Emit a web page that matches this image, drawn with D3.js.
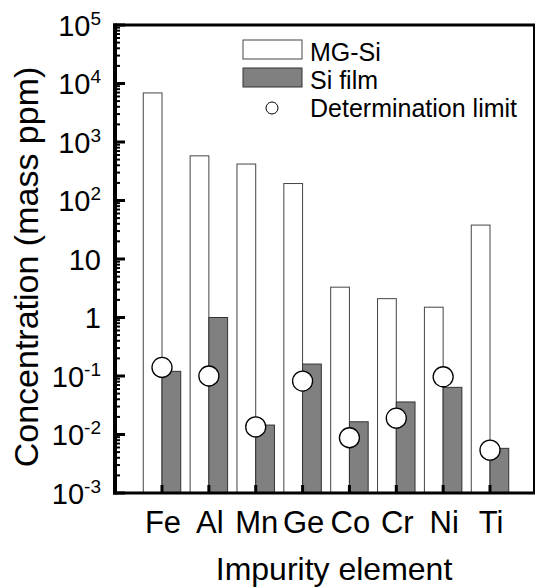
<!DOCTYPE html>
<html>
<head>
<meta charset="utf-8">
<script src="https://cdnjs.cloudflare.com/ajax/libs/d3/7.8.5/d3.min.js"></script>
<style>
	body { margin: 0; background: #ffffff; }
	svg { display: block; font-family: 'Liberation Sans', Arial, sans-serif; }
</style>
</head>
<body>
<div id="chart"></div>
<script>
// impurity chart

var elements = ['Fe', 'Al', 'Mn', 'Ge', 'Co', 'Cr', 'Ni', 'Ti'];
var mgSi = [6900, 580, 420, 195, 3.3, 2.1, 1.5, 38];
var siFilm = [0.12, 1.0, 0.0145, 0.16, 0.0165, 0.036, 0.064, 0.0058];
var detLimit = [0.14, 0.1, 0.0135, 0.082, 0.0088, 0.019, 0.097, 0.0054];
var yTicks = [1e-3, 1e-2, 1e-1, 1, 10, 1e2, 1e3, 1e4, 1e5];
var yTickLabels = [['10', '-3'], ['10', '-2'], ['10', '-1'], ['1', ''], ['10', ''],
	['10', '2'], ['10', '3'], ['10', '4'], ['10', '5']];
var legendLabels = ['MG-Si', 'Si film', 'Determination limit'];

var width = 536, height = 587;
// plot frame (window.top is reserved, hence the prefix)
var pLeft = 115, pRight = 534, pTop = 25, pBottom = 493;

var svg = d3.select('#chart')
	.append('svg')
	.attr('width', width)
	.attr('height', height);

var x = d3.scaleLinear().domain([1, elements.length]).range([162, 490]);
var unit = x(2) - x(1);
var barW = unit * 0.4;
var y = d3.scaleLog().domain([1e-3, 1e5]).range([pBottom, pTop]);

// MG-Si bars (left of the centre)
svg.selectAll('rect.mg')
	.data(mgSi)
	.enter()
	.append('rect')
	.attr('class', 'mg')
	.attr('x', function(d, i) { return x(i + 1) - barW; })
	.attr('y', function(d) { return y(d); })
	.attr('width', barW)
	.attr('height', function(d) { return pBottom - y(d); })
	.attr('fill', '#ffffff')
	.attr('stroke', '#444444')
	.attr('stroke-width', 1);

// Si film bars
svg.selectAll('rect.si')
	.data(siFilm)
	.enter()
	.append('rect')
	.attr('class', 'si')
	.attr('x', function(d, i) { return x(i + 1); })
	.attr('y', function(d) { return y(d); })
	.attr('width', barW)
	.attr('height', function(d) { return pBottom - y(d); })
	.attr('fill', '#808080')
	.attr('stroke', '#333333')
	.attr('stroke-width', 1);

// category ticks on the bottom axis
svg.selectAll('line.xt')
	.data(elements)
	.enter()
	.append('line')
	.attr('class', 'xt')
	.attr('x1', function(d, i) { return x(i + 1); })
	.attr('x2', function(d, i) { return x(i + 1); })
	.attr('y1', pBottom)
	.attr('y2', pBottom - 8)
	.attr('stroke', '#000')
	.attr('stroke-width', 3);

// determination limit circles
svg.selectAll('circle.dl')
	.data(detLimit)
	.enter()
	.append('circle')
	.attr('class', 'dl')
	.attr('cx', function(d, i) { return x(i + 1); })
	.attr('cy', function(d) { return y(d); })
	.attr('r', 10)
	.attr('fill', '#ffffff')
	.attr('stroke', '#000')
	.attr('stroke-width', 1.3);

// frame
svg.append('line').attr('x1', pLeft - 2).attr('y1', pTop).attr('x2', pRight + 1).attr('y2', pTop)
	.attr('stroke', '#000').attr('stroke-width', 3);
svg.append('line').attr('x1', pRight).attr('y1', pTop).attr('x2', pRight).attr('y2', pBottom)
	.attr('stroke', '#000').attr('stroke-width', 2);
svg.append('line').attr('x1', pLeft - 2).attr('y1', pBottom).attr('x2', pRight + 1).attr('y2', pBottom)
	.attr('stroke', '#000').attr('stroke-width', 3);
svg.append('line').attr('x1', pLeft).attr('y1', pTop - 1.5).attr('x2', pLeft).attr('y2', pBottom + 1.5)
	.attr('stroke', '#000').attr('stroke-width', 4);

// minor ticks on the log axis
var minor = [];
yTicks.slice(0, -1).forEach(function(t) {
	for (var k = 2; k < 10; k++) minor.push(t * k);
});
svg.selectAll('line.ymin')
	.data(minor)
	.enter()
	.append('line')
	.attr('class', 'ymin')
	.attr('x1', pLeft)
	.attr('x2', pLeft + 5)
	.attr('y1', function(d) { return y(d); })
	.attr('y2', function(d) { return y(d); })
	.attr('stroke', '#000')
	.attr('stroke-width', 2);

svg.selectAll('line.ymaj')
	.data(yTicks)
	.enter()
	.append('line')
	.attr('class', 'ymaj')
	.attr('x1', pLeft)
	.attr('x2', pLeft + 10)
	.attr('y1', function(d) { return y(d); })
	.attr('y2', function(d) { return y(d); })
	.attr('stroke', '#000')
	.attr('stroke-width', 3);

// y tick labels, with superscripts
var yl = svg.selectAll('text.yl')
	.data(yTicks)
	.enter()
	.append('text')
	.attr('class', 'yl')
	.attr('x', 101)
	.attr('y', function(d) { return y(d) + 10.5; })
	.attr('text-anchor', 'end')
	.attr('font-size', 29)
	.attr('fill', '#000');
yl.append('tspan')
	.text(function(d, i) { return yTickLabels[i][0]; });
yl.append('tspan')
	.attr('font-size', 19)
	.attr('dy', -11)
	.text(function(d, i) { return yTickLabels[i][1]; });

// x tick labels
svg.selectAll('text.xl')
	.data(elements)
	.enter()
	.append('text')
	.attr('class', 'xl')
	.attr('x', function(d, i) { return x(i + 1) + 1; })
	.attr('y', 533)
	.attr('text-anchor', 'middle')
	.attr('font-size', 31)
	.attr('fill', '#000')
	.text(function(d) { return d; });

// axis titles
svg.append('text')
	.attr('x', 334)
	.attr('y', 580)
	.attr('text-anchor', 'middle')
	.attr('font-size', 32)
	.attr('fill', '#000')
	.text('Impurity element');

svg.append('text')
	.attr('transform', 'translate(38,' + 267 + ') rotate(-90)')
	.attr('text-anchor', 'middle')
	.attr('font-size', 34)
	.attr('fill', '#000')
	.text('Concentration (mass ppm)');

// legend
var lg = svg.append('g');
lg.append('rect')
	.attr('x', 243).attr('y', 40).attr('width', 59).attr('height', 19)
	.attr('fill', '#ffffff').attr('stroke', '#444444').attr('stroke-width', 1);
lg.append('rect')
	.attr('x', 243).attr('y', 68).attr('width', 59).attr('height', 19)
	.attr('fill', '#808080').attr('stroke', '#333333').attr('stroke-width', 1);
lg.append('circle')
	.attr('cx', 272).attr('cy', 108).attr('r', 6)
	.attr('fill', '#ffffff').attr('stroke', '#000').attr('stroke-width', 1);
lg.selectAll('text')
	.data(legendLabels)
	.enter()
	.append('text')
	.attr('x', 310)
	.attr('y', function(d, i) { return 61 + i * 28; })
	.attr('font-size', 25)
	.attr('fill', '#000')
	.text(function(d) { return d; });
</script>
</body>
</html>
